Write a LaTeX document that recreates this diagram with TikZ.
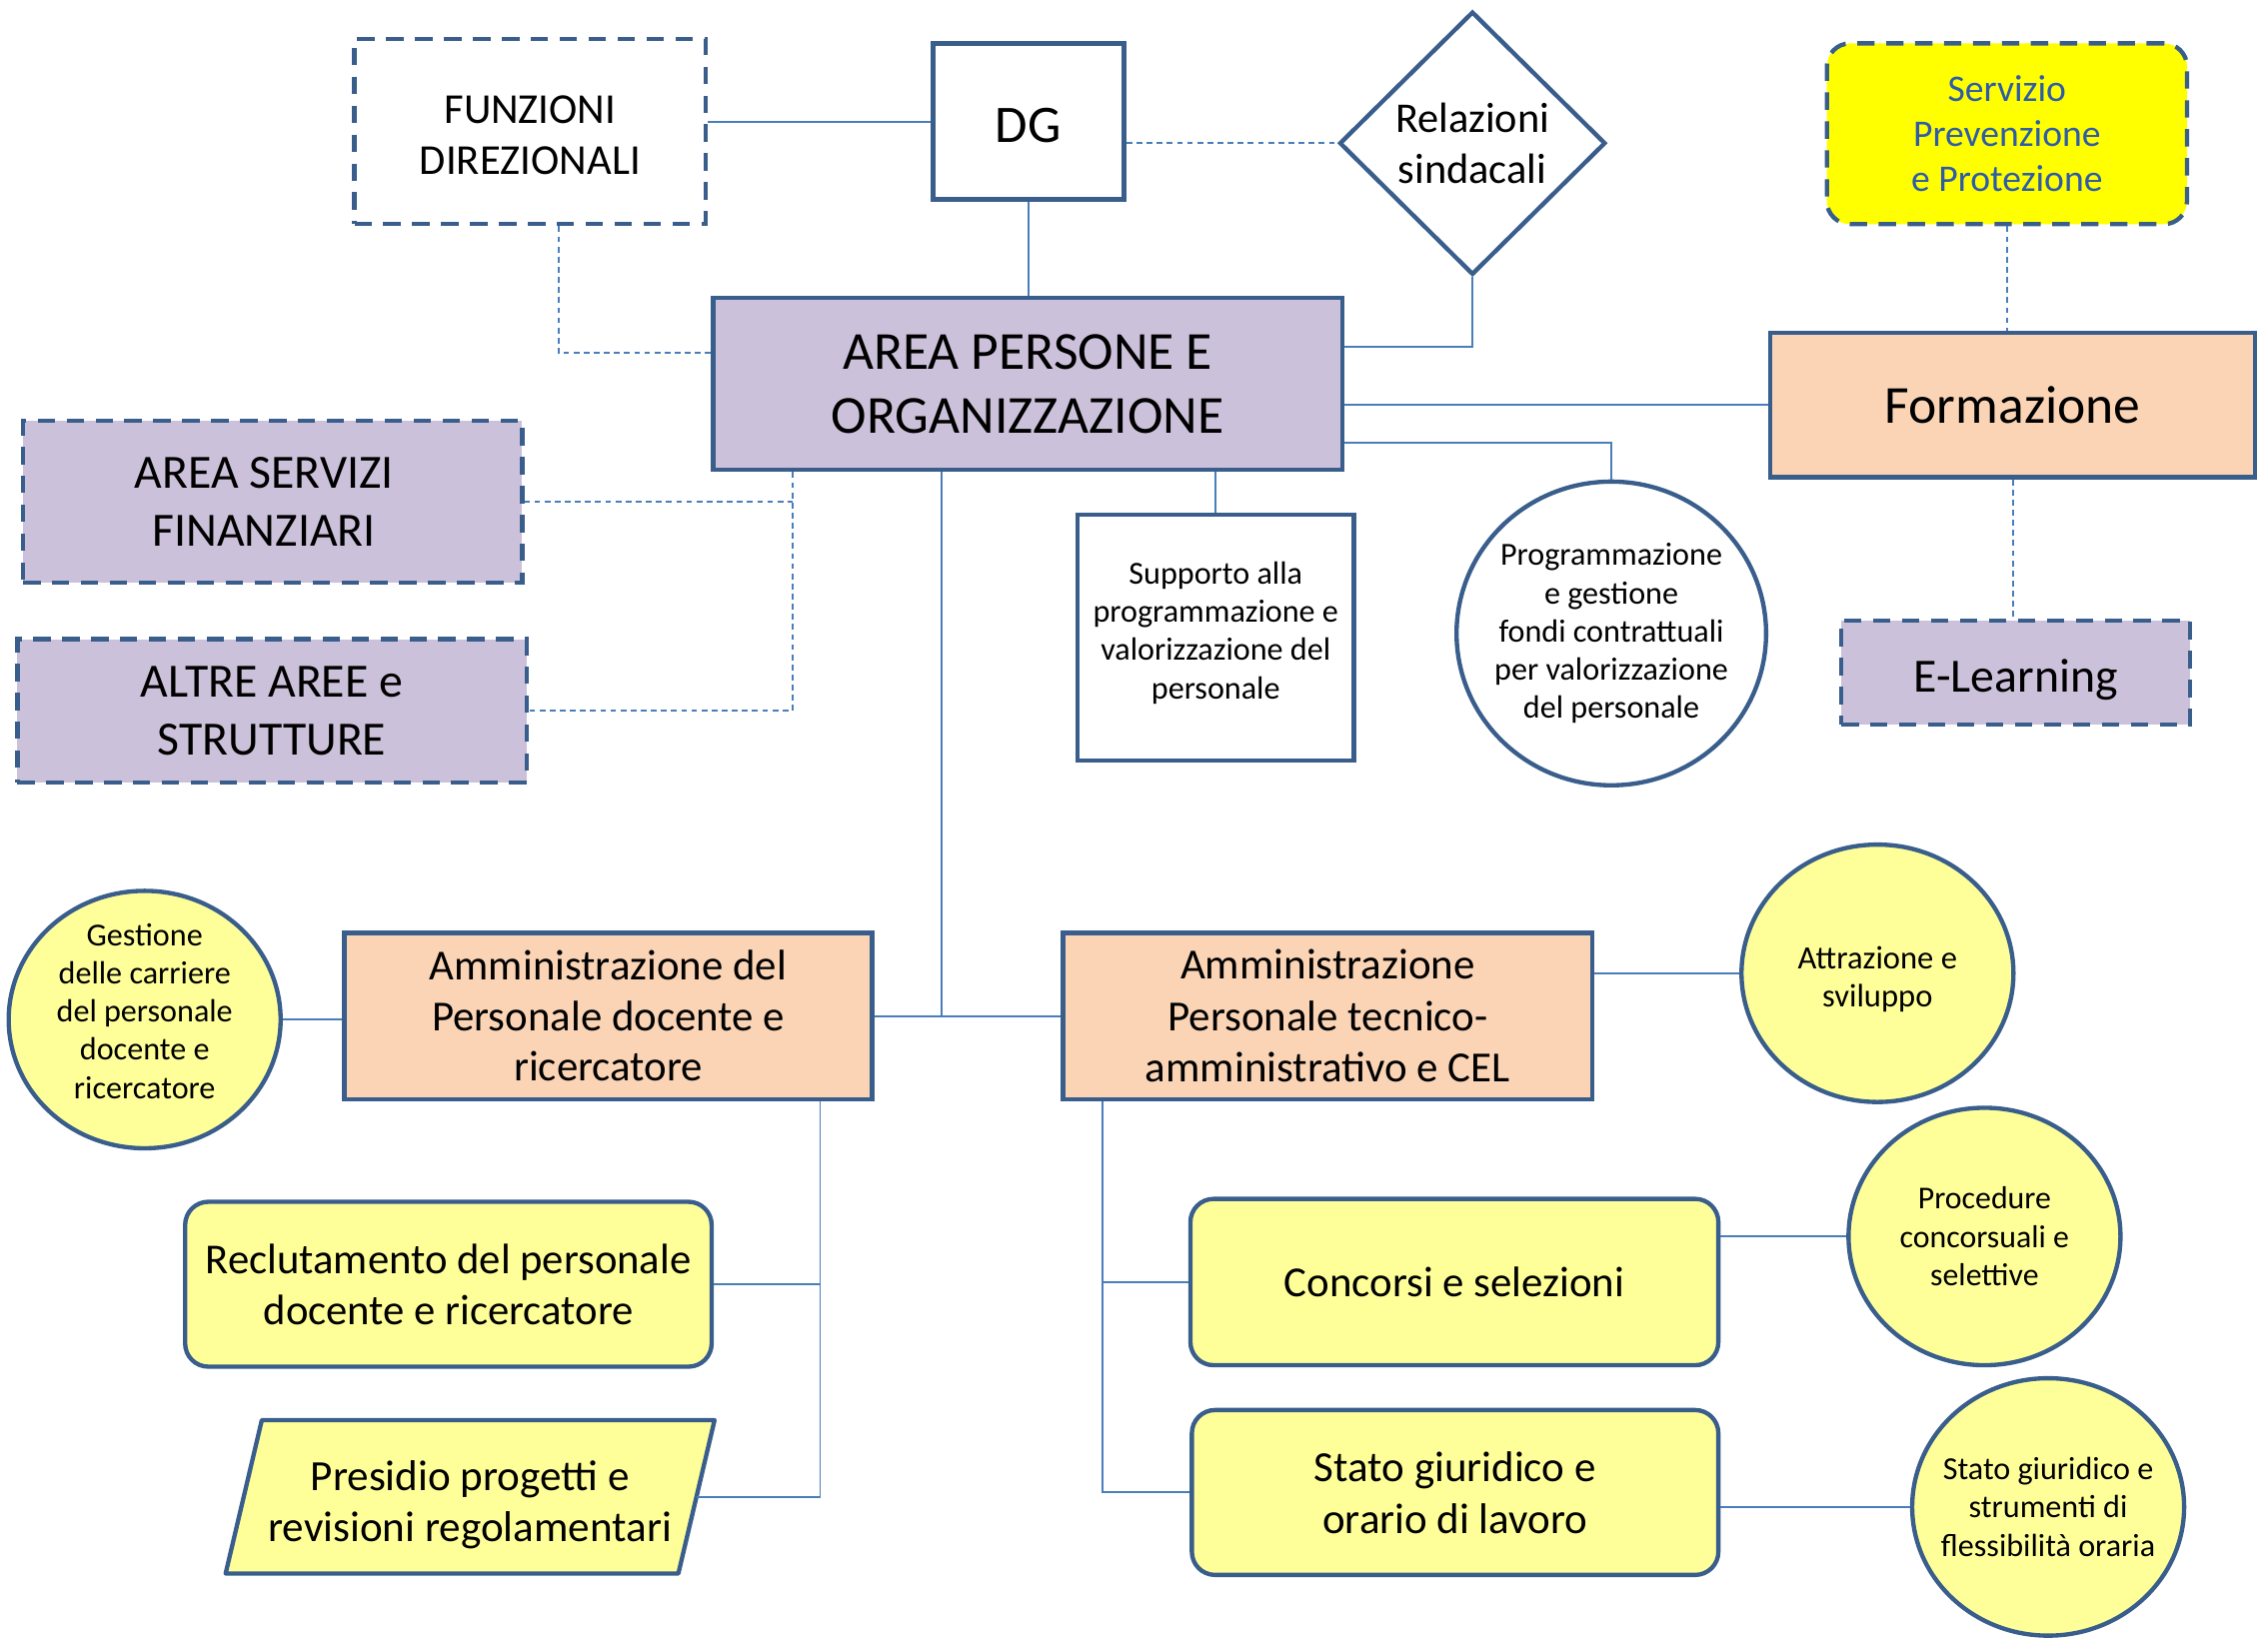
\documentclass[tikz,border=0pt]{standalone}
\usepackage{fontspec}
\setmainfont{Carlito}
\usetikzlibrary{shapes.geometric,calc}
\definecolor{bord}{HTML}{3A5E8C}
\definecolor{lineblue}{HTML}{4A7EBB}
\definecolor{lav}{HTML}{CCC1DA}
\definecolor{peach}{HTML}{FAD4B5}
\definecolor{lyel}{HTML}{FFFF99}
\definecolor{yel}{HTML}{FFFF00}
\definecolor{servblue}{HTML}{2E5CA8}
\newcommand\fsz[2]{\fontsize{#1}{#2}\selectfont}
\newcommand\upstrut[1]{\rule{0pt}{#1}}
\newcommand\dnstrut[1]{\rule[-#1]{0pt}{#1}}
\begin{document}
\begin{tikzpicture}[x=1pt,y=-1pt,
  box/.style={draw=bord,line width=3pt,inner sep=0pt,align=center},
  dbox/.style={box,dash pattern=on 12pt off 8pt},
  conn/.style={draw=lineblue,line width=1.3pt},
  dconn/.style={conn,dash pattern=on 4pt off 3pt},
  oval/.style={box,ellipse,fill=lyel,inner sep=-15pt,minimum width=188pt,minimum height=178pt,font=\fsz{22.2}{26.4}},
  rbox/.style={box,fill=lyel,rounded corners=16pt,font=\fsz{29.6}{35.5}},
]
\useasboundingbox (0,0) rectangle (1568,1133);
\fill[white] (0,0) rectangle (1568,1133);

% nodes
\node[dbox,fill=white,minimum width=243pt,minimum height=128pt,font=\fsz{29.5}{35}] (funz) at (366.5,91) {\upstrut{24pt}FUNZIONI\\DIREZIONALI};
\node[box,line width=3.5pt,fill=white,minimum width=132pt,minimum height=108pt,font=\fsz{36.5}{44}] (dg) at (711,84) {\upstrut{29.5pt}DG};
\node[box,diamond,fill=white,minimum width=184pt,minimum height=182pt,font=\fsz{29.3}{35}] (rel) at (1018,99) {Relazioni\\sindacali};
\node[dbox,fill=yel,rounded corners=16pt,minimum width=249pt,minimum height=125pt,text=servblue,font=\fsz{26}{31}] (serv) at (1387.5,92.5) {Servizio\\Prevenzione\\e Protezione};
\node[box,fill=lav,minimum width=435pt,minimum height=119pt,font=\fsz{37}{44}] (apo) at (710.5,265.5) {AREA PERSONE E\\ORGANIZZAZIONE};
\node[box,fill=peach,minimum width=335pt,minimum height=100pt,font=\fsz{37}{44}] (form) at (1391.5,280) {Formazione};
\node[dbox,fill=lav,minimum width=345pt,minimum height=112pt,font=\fsz{33}{40}] (asf) at (188.5,347) {AREA SERVIZI\hspace*{12pt}\\FINANZIARI\hspace*{12pt}};
\node[dbox,fill=lav,minimum width=352pt,minimum height=99pt,font=\fsz{33}{40}] (altre) at (188,491.5) {ALTRE AREE e\\STRUTTURE};
\node[box,fill=white,minimum width=191pt,minimum height=170pt,font=\fsz{22.2}{26.5}] (supp) at (840.5,441) {Supporto alla\\programmazione e\\valorizzazione del\\personale\dnstrut{10.5pt}};
\node[oval,fill=white,minimum width=214pt,minimum height=210pt] (prog) at (1114,438) {Programmazione\\e gestione\\fondi contrattuali\\per valorizzazione\\del personale};
\node[dbox,fill=lav,minimum width=241pt,minimum height=72pt,font=\fsz{33}{40}] (elearn) at (1393.5,465) {\upstrut{33pt}E-Learning};
\node[oval] (gest) at (100,705) {Gestione\\delle carriere\\del personale\\docente e\\ricercatore\dnstrut{12pt}};
\node[box,fill=peach,minimum width=365pt,minimum height=115pt,font=\fsz{29.6}{35}] (amdoc) at (420.5,702.5) {Amministrazione del\\Personale docente e\\ricercatore};
\node[box,fill=peach,minimum width=366pt,minimum height=115pt,font=\fsz{29.7}{35.5}] (amtec) at (918,702.5) {Amministrazione\\Personale tecnico-\\amministrativo e CEL};
\node[oval,font=\fsz{22.5}{26}] (attr) at (1298,673) {\upstrut{24pt}Attrazione e\\sviluppo};
\node[rbox,minimum width=364pt,minimum height=114pt,font=\fsz{29.5}{35}] (recl) at (310,888) {Reclutamento del personale\\docente e ricercatore};
\draw[draw=bord,line width=3pt,fill=lyel,line join=round] (156,1088) -- (469,1088) -- (494,982) -- (181,982) -- cycle;
\node[align=center,inner sep=0pt,minimum width=313pt,minimum height=106pt,font=\fsz{29.8}{35}] (pres) at (325,1035) {\upstrut{32pt}Presidio progetti e\\revisioni regolamentari};
\node[rbox,minimum width=365pt,minimum height=115pt] (conc) at (1005.5,886.5) {Concorsi e selezioni};
\node[rbox,minimum width=364pt,minimum height=114pt,font=\fsz{29.7}{36}] (stato) at (1006,1032) {Stato giuridico e\\orario di lavoro};
\node[oval,font=\fsz{22}{26.5}] (proc) at (1372,855) {Procedure\\concorsuali e\\selettive};
\node[oval,font=\fsz{22.2}{26.5}] (sgs) at (1416,1042) {Stato giuridico e\\strumenti di\\flessibilità oraria};

% helper coordinates
\coordinate (f1) at (386,244);
\coordinate (r1) at (1018,240);
\coordinate (p1) at (1114,306);
\coordinate (a1) at (548,400);
\coordinate (t0) at (651,702.5);
\coordinate (t1) at (567,900);
\coordinate (t2) at (762,900);

% connectors
\draw[conn] (funz.east |- dg.west) -- (dg.west);
\draw[dconn] (rel.west -| dg.east) -- (rel.west);
\draw[conn] (dg.south) -- (dg.south |- apo.north);
\draw[dconn] (funz.south -| f1) -- (f1) -- (apo.west |- f1);
\draw[conn] (rel.south) -- (r1) -- (apo.east |- r1);
\draw[dconn] (serv.south) -- (serv.south |- form.north);
\draw[conn] (apo.east |- form.west) -- (form.west);
\draw[conn] (apo.east |- p1) -- (p1) -- (prog.north);
\draw[conn] (supp.north |- apo.south) -- (supp.north);
\draw[dconn] (form.south) -- (form.south |- elearn.north);
\draw[dconn] (apo.south -| a1) -- (a1 |- altre.east) -- (altre.east);
\draw[dconn] (asf.east) -- (asf.east -| a1);
\draw[conn] (apo.south -| t0) -- (t0);
\draw[conn] (amdoc.east) -- (amtec.west);
\draw[conn] (gest.east) -- (gest.east -| amdoc.west);
\draw[conn] (amdoc.south -| t1) -- (t1 |- pres.east) -- (pres.east);
\draw[conn] (recl.east) -- (recl.east -| t1);
\draw[conn] (amtec.south -| t2) -- (t2 |- stato.west) -- (stato.west);
\draw[conn] (conc.west -| t2) -- (conc.west);
\draw[conn] (attr.west -| amtec.east) -- (attr.west);
\draw[conn] (proc.west -| conc.east) -- (proc.west);
\draw[conn] (sgs.west -| stato.east) -- (sgs.west);
\end{tikzpicture}
\end{document}
